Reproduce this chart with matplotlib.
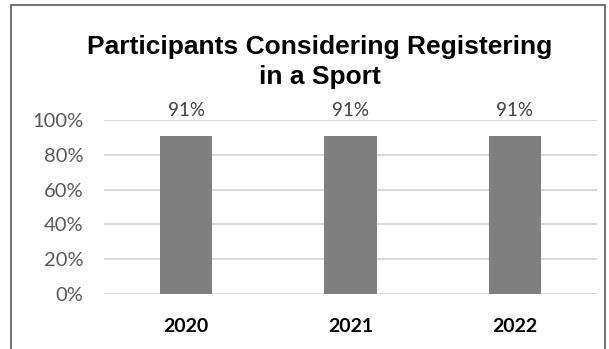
import matplotlib.pyplot as plt
from matplotlib.patches import Rectangle
from matplotlib.ticker import FuncFormatter

years = ['2020', '2021', '2022']
shares = [0.91, 0.91, 0.91]
y_ticks = [0, 0.2, 0.4, 0.6, 0.8, 1.0]

W, H = 609, 349
fig = plt.figure(figsize=(W / 100, H / 100), dpi=100)

# chart frame (bottom edge runs off the picture)
fig.patches.append(Rectangle((11 / W, -0.05), (605 - 11) / W, 1.05 - 5 / H,
                             transform=fig.transFigure, fill=False,
                             edgecolor='#595959', linewidth=1.2))

ax = fig.add_axes([104 / W, 1 - 294 / H, (597 - 104) / W, (294 - 120) / H])
x = range(len(years))
ax.bar(x, shares, width=0.32, color='#7f7f7f', zorder=3)
ax.set_xlim(-0.5, 2.5)
ax.set_ylim(0, 1)
ax.set_yticks(y_ticks)
ax.yaxis.set_major_formatter(FuncFormatter(lambda v, p: f'{v:.0%}'))
ax.grid(axis='y', color='#d9d9d9', linewidth=1.5, zorder=0)
for s in ax.spines.values():
    s.set_visible(False)
ax.tick_params(length=0)
ax.tick_params(axis='y', labelsize=14.5, labelcolor='#595959', pad=15)
ax.set_xticks(list(x))
ax.set_xticklabels(years, fontsize=14, fontweight='bold', color='black')
ax.tick_params(axis='x', pad=17)
for lbl in ax.get_xticklabels() + ax.get_yticklabels():
    lbl.set_family(['Lato', 'DejaVu Sans'])

for i, v in zip(x, shares):
    ax.text(i, 1.005, f'{v:.0%}', ha='center', va='bottom', fontsize=13.5,
            color='#404040', family=['Lato', 'DejaVu Sans'], clip_on=False)

fig.text(320 / W, 1 - 62 / H, 'Participants Considering Registering\nin a Sport',
         ha='center', va='center', fontsize=19, fontweight='bold',
         family=['Liberation Sans', 'DejaVu Sans'], linespacing=1.32)

fig.savefig('out.png', dpi=100)
